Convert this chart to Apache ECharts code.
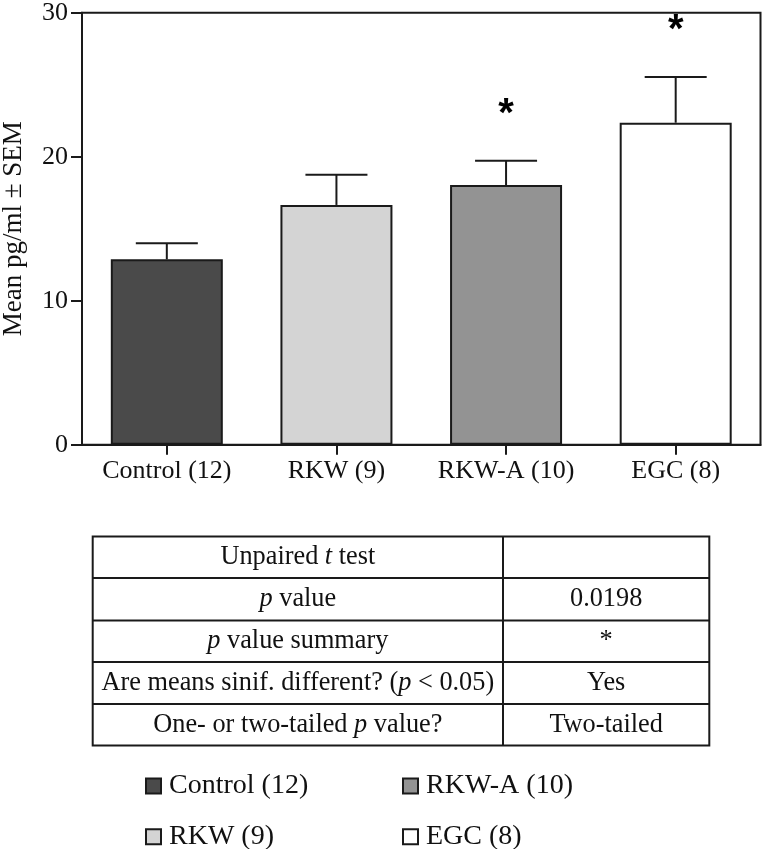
<!DOCTYPE html>
<html>
<head>
<meta charset="utf-8">
<script src="https://cdn.jsdelivr.net/npm/echarts@6/dist/echarts.min.js"></script>
<style>
html,body{margin:0;padding:0;background:#fff;}
#chart{width:762px;height:849px;}
</style>
</head>
<body>
<div id="chart"></div>
<script>
// ---- data ----
var categories = ['Control (12)', 'RKW (9)', 'RKW-A (10)', 'EGC (8)'];
var means = [12.87, 16.65, 18.03, 22.36];
var sem = [1.12, 2.10, 1.69, 3.17];
var significant = [false, false, true, true];
var barColors = ['#4a4a4a', '#d4d4d4', '#939393', '#ffffff'];
var yTicks = [0, 10, 20, 30];
var yTitle = 'Mean pg/ml \u00b1 SEM';
var tableLeft = ['Unpaired {i|t} test', '{i|p} value', '{i|p} value summary',
  'Are means sinif. different? ({i|p} < 0.05)', 'One- or two-tailed {i|p} value?'];
var tableRight = ['', '0.0198', '*', 'Yes', 'Two-tailed'];
var legendCol1 = ['Control (12)', 'RKW (9)'];
var legendCol2 = ['RKW-A (10)', 'EGC (8)'];

var SERIF = '"Liberation Serif", "Times New Roman", serif';
var INK = '#111111';

var chart = echarts.init(document.getElementById('chart'), null, {renderer: 'canvas'});

var barSeries = categories.map(function (name, i) {
  return {
    name: name,
    type: 'bar',
    stack: 'one',
    barWidth: 112,
    data: categories.map(function (c, j) { return j === i ? means[i] : '-'; }),
    itemStyle: {color: barColors[i], borderColor: '#1a1a1a', borderWidth: 2},
    emphasis: {disabled: true},
    z: 2
  };
});

var errData = categories.map(function (c, i) { return [i, means[i], means[i] + sem[i], significant[i] ? 1 : 0]; });

var errSeries = {
  type: 'custom',
  data: errData,
  z: 3,
  encode: {x: 0, y: [1, 2]},
  renderItem: function (params, api) {
    var x = api.value(0);
    var base = api.coord([x, api.value(1)]);
    var top = api.coord([x, api.value(2)]);
    var half = 31;
    var children = [
      {type: 'line', shape: {x1: base[0], y1: base[1], x2: top[0], y2: top[1]},
        style: {stroke: '#1a1a1a', lineWidth: 2}},
      {type: 'line', shape: {x1: top[0] - half, y1: top[1], x2: top[0] + half, y2: top[1]},
        style: {stroke: '#1a1a1a', lineWidth: 2}}
    ];
    if (api.value(3)) {
      children.push({type: 'text', x: top[0], y: top[1] - 46,
        style: {text: '*', fontSize: 40, fontWeight: 'bold', fontFamily: '"Liberation Sans", Arial, sans-serif',
          fill: '#000', align: 'center', verticalAlign: 'middle'}});
    }
    return {type: 'group', children: children};
  }
};

// ---- table graphics ----
var tX0 = 92.7, tX1 = 709.3, tXm = 503, tY = [536.5, 578, 620.5, 662, 704, 745.5];
var graphics = [];
graphics.push({type: 'rect', shape: {x: tX0, y: tY[0], width: tX1 - tX0, height: tY[5] - tY[0]},
  style: {fill: 'none', stroke: '#1a1a1a', lineWidth: 2}});
graphics.push({type: 'line', shape: {x1: tXm, y1: tY[0], x2: tXm, y2: tY[5]}, style: {stroke: '#1a1a1a', lineWidth: 2}});
for (var r = 1; r < 5; r++) {
  graphics.push({type: 'line', shape: {x1: tX0, y1: tY[r], x2: tX1, y2: tY[r]}, style: {stroke: '#1a1a1a', lineWidth: 2}});
}
for (var k = 0; k < 5; k++) {
  var cy = (tY[k] + tY[k + 1]) / 2;
  graphics.push({type: 'text', x: (tX0 + tXm) / 2, y: cy,
    style: {text: tableLeft[k], fontSize: 26.3, fontFamily: SERIF, fill: INK, align: 'center', verticalAlign: 'middle',
      rich: {i: {fontSize: 26.3, fontFamily: SERIF, fontStyle: 'italic', fill: INK}}}});
  if (tableRight[k]) {
    graphics.push({type: 'text', x: (tXm + tX1) / 2, y: cy,
      style: {text: tableRight[k], fontSize: 26.3, fontFamily: SERIF, fill: INK, align: 'center', verticalAlign: 'middle'}});
  }
}

var legendCommon = {
  orient: 'vertical',
  itemWidth: 15,
  itemHeight: 15,
  itemGap: 20.7,
  icon: 'rect',
  selectedMode: false,
  padding: 0,
  height: 200,
  textStyle: {fontSize: 28, fontFamily: SERIF, color: INK, lineHeight: 30, padding: [0, 0, 0, 3]}
};

var option = {
  backgroundColor: '#ffffff',
  animation: false,
  textStyle: {fontFamily: SERIF},
  grid: {left: 82, top: 12.7, right: 1.5, bottom: 404.3, show: true, borderColor: '#1a1a1a', borderWidth: 2,
    backgroundColor: 'transparent', containLabel: false, outerBoundsMode: 'none'},
  legend: [
    Object.assign({}, legendCommon, {data: legendCol1, left: 145, top: 771}),
    Object.assign({}, legendCommon, {data: legendCol2, left: 402, top: 771})
  ],
  xAxis: {
    type: 'category',
    data: categories,
    axisLine: {show: true, lineStyle: {color: '#1a1a1a', width: 2}},
    axisTick: {show: true, alignWithLabel: true, interval: 0, length: 10, lineStyle: {color: '#1a1a1a', width: 2}},
    axisLabel: {fontSize: 26, fontFamily: SERIF, color: INK, margin: 13, interval: 0, hideOverlap: false},
    splitLine: {show: false}
  },
  yAxis: {
    type: 'value',
    min: yTicks[0],
    max: yTicks[yTicks.length - 1],
    interval: yTicks[1] - yTicks[0],
    name: yTitle,
    nameLocation: 'middle',
    nameRotate: 90,
    nameGap: 55,
    nameTextStyle: {fontSize: 27, fontFamily: SERIF, color: INK},
    axisLine: {show: true, lineStyle: {color: '#1a1a1a', width: 2}},
    axisTick: {show: true, length: 11, lineStyle: {color: '#1a1a1a', width: 2}},
    axisLabel: {fontSize: 26, fontFamily: SERIF, color: INK, margin: 14},
    splitLine: {show: false}
  },
  series: barSeries.concat([errSeries]),
  graphic: graphics
};

chart.setOption(option);
</script>
</body>
</html>
